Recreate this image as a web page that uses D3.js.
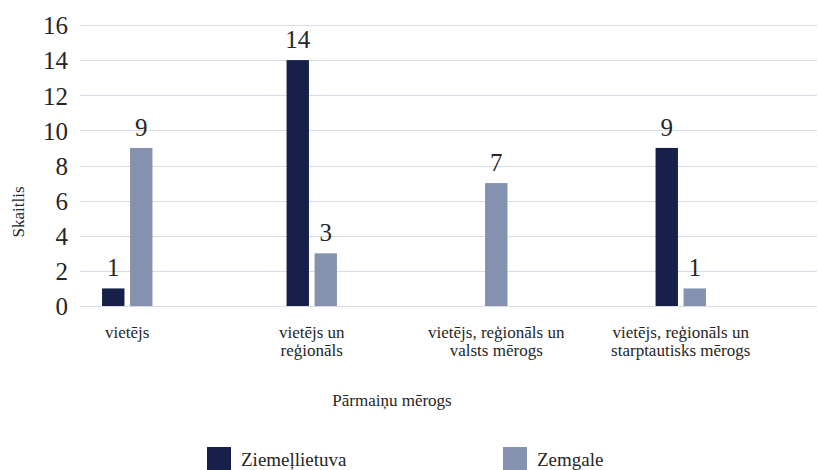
<!DOCTYPE html>
<html>
<head>
  <meta charset="utf-8">
  <title>Pārmaiņu mērogs</title>
  <script src="https://d3js.org/d3.v7.min.js"></script>
  <style>
    body { margin: 0; background: #fff; }
    svg text { font-family: "Times New Roman", Times, "Liberation Serif", Tinos, "DejaVu Serif", "Noto Serif", serif; }
    .grid line { stroke: #d5dce6; stroke-width: 1; }
    .tick text { fill: #262626; }
  </style>
</head>
<body>

  <svg width="818" height="470"></svg>

  <script>
    // Chart data
    const categories = [
      ["vietējs"],
      ["vietējs un", "reģionāls"],
      ["vietējs, reģionāls un", "valsts mērogs"],
      ["vietējs, reģionāls un", "starptautisks mērogs"]
    ];
    const seriesNames = ["Ziemeļlietuva", "Zemgale"];
    const ziemellietuva = [1, 14, null, 9];
    const zemgale = [9, 3, 7, 1];
    const yTicks = [0, 2, 4, 6, 8, 10, 12, 14, 16];

    const colors = ["#172048", "#8492b0"];
    const seriesValues = [ziemellietuva, zemgale];

    const svg = d3.select("svg");

    const plotLeft = 80, plotRight = 817;

    const x = d3.scaleBand()
      .domain(d3.range(categories.length))
      .range([35, 773]);

    const y = d3.scaleLinear()
      .domain([0, 16])
      .range([306, 25]);

    // Gridlines
    svg.append("g")
      .attr("class", "grid")
      .selectAll("line")
      .data(yTicks)
      .enter()
      .append("line")
      .attr("x1", plotLeft)
      .attr("x2", plotRight)
      .attr("y1", d => Math.round(y(d)) + 0.5)
      .attr("y2", d => Math.round(y(d)) + 0.5);

    // Y axis labels
    const yAxis = svg.append("g")
      .attr("transform", "translate(68,0)")
      .call(d3.axisLeft(y).tickValues(yTicks).tickSize(0).tickPadding(0));
    yAxis.attr("font-family", null);
    yAxis.select(".domain").remove();
    yAxis.selectAll("text")
      .attr("font-size", 25)
      .attr("dy", "0.35em");

    // Bars, one group per category; missing values are skipped and the rest centered
    const barStep = 28;
    const groups = svg.append("g")
      .selectAll("g")
      .data(categories.map((c, i) => i))
      .enter()
      .append("g")
      .attr("transform", i => `translate(${x(i) + x.bandwidth() / 2},0)`);

    groups.each(function(i) {
      const present = seriesNames
        .map((name, s) => ({ s, value: seriesValues[s][i] }))
        .filter(d => d.value != null);
      const inner = d3.scaleBand()
        .domain(present.map(d => d.s))
        .range([-present.length * barStep / 2, present.length * barStep / 2])
        .paddingInner(0.2)
        .paddingOuter(0.1);
      const g = d3.select(this);
      g.selectAll("rect")
        .data(present)
        .enter()
        .append("rect")
        .attr("x", d => inner(d.s))
        .attr("width", inner.bandwidth())
        .attr("y", d => y(d.value))
        .attr("height", d => y(0) - y(d.value))
        .attr("fill", d => colors[d.s]);
      g.selectAll("text")
        .data(present)
        .enter()
        .append("text")
        .attr("x", d => inner(d.s) + inner.bandwidth() / 2)
        .attr("y", d => y(d.value) - 12)
        .attr("text-anchor", "middle")
        .attr("font-size", 25)
        .attr("fill", "#262626")
        .text(d => d.value);
    });

    // Category labels
    svg.append("g")
      .selectAll("text")
      .data(categories)
      .enter()
      .append("text")
      .attr("x", (d, i) => x(i) + x.bandwidth() / 2)
      .attr("y", 338)
      .attr("text-anchor", "middle")
      .attr("font-size", 17)
      .attr("fill", "#262626")
      .selectAll("tspan")
      .data(d => d)
      .enter()
      .append("tspan")
      .attr("x", function() { return d3.select(this.parentNode).attr("x"); })
      .attr("dy", (d, j) => j === 0 ? 0 : 18)
      .text(d => d);

    // Axis titles
    svg.append("text")
      .attr("transform", "translate(24,212) rotate(-90)")
      .attr("text-anchor", "middle")
      .attr("font-size", 17)
      .attr("fill", "#262626")
      .text("Skaitlis");

    svg.append("text")
      .attr("x", 392)
      .attr("y", 406)
      .attr("text-anchor", "middle")
      .attr("font-size", 17)
      .attr("fill", "#262626")
      .text("Pārmaiņu mērogs");

    // Legend
    const legendX = [207, 503];
    const legend = svg.append("g")
      .selectAll("g")
      .data(seriesNames)
      .enter()
      .append("g")
      .attr("transform", (d, i) => `translate(${legendX[i]},447)`);
    legend.append("rect")
      .attr("width", 24)
      .attr("height", 24)
      .attr("fill", (d, i) => colors[i]);
    legend.append("text")
      .attr("x", 34)
      .attr("y", 19)
      .attr("font-size", 19)
      .attr("fill", "#262626")
      .text(d => d);
  </script>

</body>
</html>
